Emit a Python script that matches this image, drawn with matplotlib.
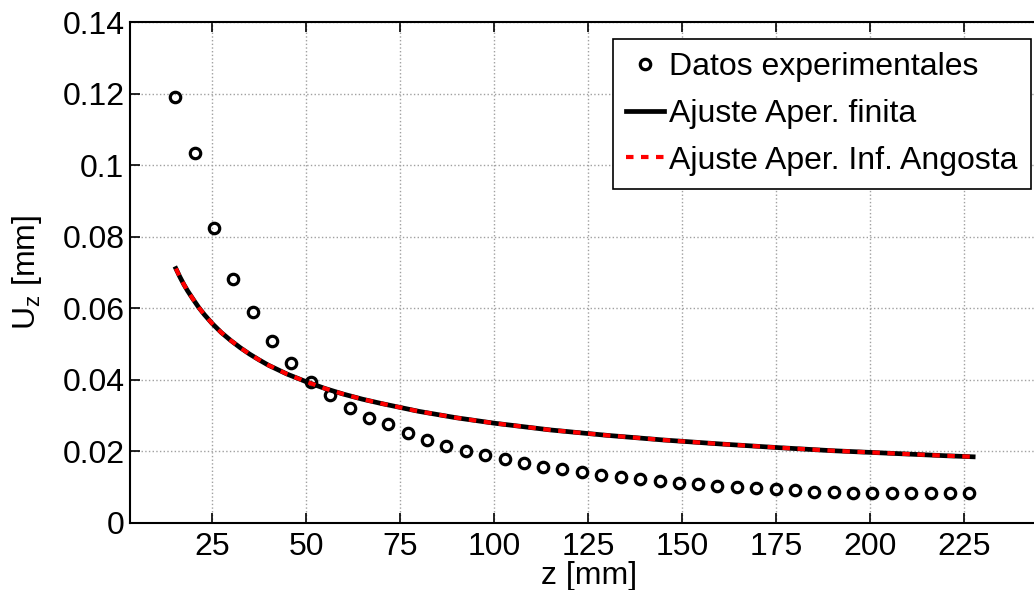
import numpy as np
import matplotlib as mpl
from matplotlib import pyplot as plt
from matplotlib.ticker import FormatStrFormatter

mpl.rcParams['font.family'] = ['Liberation Sans', 'DejaVu Sans']
mpl.rcParams['mathtext.fontset'] = 'custom'
mpl.rcParams['mathtext.rm'] = 'Liberation Sans'

z_exp = [15.2, 20.4, 25.5, 30.7, 35.8, 41.0, 46.1, 51.3, 56.4, 61.6,
         66.7, 71.9, 77.0, 82.2, 87.3, 92.5, 97.6, 102.8, 107.9, 113.1,
         118.2, 123.4, 128.5, 133.7, 138.8, 144.0, 149.1, 154.3, 159.4, 164.6,
         169.7, 174.9, 180.0, 185.2, 190.3, 195.5, 200.6, 205.8, 210.9, 216.1,
         221.2, 226.4]
u_exp = [0.1191, 0.1034, 0.0823, 0.0681, 0.0589, 0.0509, 0.0446, 0.0393, 0.0358, 0.0320,
         0.0294, 0.0276, 0.0251, 0.0232, 0.0215, 0.0202, 0.0190, 0.0179, 0.0167, 0.0157,
         0.0150, 0.0143, 0.0134, 0.0128, 0.0122, 0.0118, 0.0113, 0.0108, 0.0103, 0.0100,
         0.0097, 0.0094, 0.0091, 0.0088, 0.0086, 0.0084, 0.0083, 0.0083, 0.0083, 0.0083,
         0.0083, 0.0083]

# fitted curves (both fits lie on top of each other)
z_fit = [15.4, 16.5, 17.5, 18.5, 20, 21.5, 23, 25, 27.5, 30, 32.5, 35, 37.5,
         40, 45, 50, 55, 60, 65, 70, 80, 90, 100, 115, 130,
         145, 160, 175, 190, 205, 220, 227.4]
u_fit_finita = [0.0711, 0.0687, 0.0667, 0.0649, 0.0625, 0.0602, 0.0582, 0.0558,
                0.0532, 0.0510, 0.0490, 0.0472, 0.0456, 0.0441, 0.0416, 0.0395,
                0.0376, 0.0360, 0.0346, 0.0334, 0.0312, 0.0294, 0.0279, 0.0260,
                0.0245, 0.0232, 0.0221, 0.0211, 0.0202, 0.0195, 0.0188, 0.0185]
u_fit_angosta = [0.0711, 0.0687, 0.0667, 0.0649, 0.0625, 0.0602, 0.0582, 0.0558,
                 0.0532, 0.0510, 0.0490, 0.0472, 0.0456, 0.0441, 0.0416, 0.0395,
                 0.0376, 0.0360, 0.0346, 0.0334, 0.0312, 0.0294, 0.0279, 0.0260,
                 0.0245, 0.0232, 0.0221, 0.0211, 0.0202, 0.0195, 0.0188, 0.0185]

x_ticks = [25, 50, 75, 100, 125, 150, 175, 200, 225]
y_ticks = [0, 0.02, 0.04, 0.06, 0.08, 0.1, 0.12, 0.14]

W, H = 1034, 590
dpi = 100
fs = 23

fig = plt.figure(figsize=(W / dpi, H / dpi), dpi=dpi)
# axes run past the right edge of the figure, like the cropped original
ax = fig.add_axes([130 / W, (H - 523) / H, (1048 - 130) / W, (523 - 22) / H])

ax.plot(z_exp, u_exp, 'o', ms=7.5, mew=2.3, mfc='none', mec='black',
        label='Datos experimentales', zorder=3)
ax.plot(z_fit, u_fit_finita, '-', color='black', lw=3.4,
        label='Ajuste Aper. finita', zorder=4)
ax.plot(z_fit, u_fit_angosta, '--', color='red', lw=3.0, dashes=(1.8, 1.8),
        label='Ajuste Aper. Inf. Angosta', zorder=5)

ax.set_xlim(3.2, 247.3)
ax.set_ylim(0, 0.14)
ax.set_xticks(x_ticks)
ax.set_yticks(y_ticks)
ax.yaxis.set_major_formatter(FormatStrFormatter('%g'))

ax.grid(True, linestyle=':', color='#a0a0a0', lw=1.0)
ax.tick_params(direction='in', length=7, width=1.2, labelsize=fs,
               top=True, right=False, pad=4)
ax.tick_params(axis='x', pad=6.5)
for s in ['left', 'bottom', 'top']:
    ax.spines[s].set_linewidth(1.5)
ax.spines['right'].set_visible(False)

ax.set_xlabel('z [mm]', fontsize=fs)
ax.set_ylabel(r'U$_\mathrm{z}$ [mm]', fontsize=fs)
ax.xaxis.set_label_coords(0.5, -0.075)
ax.yaxis.set_label_coords(-0.094, 0.5)

leg = ax.legend(loc='upper right', bbox_to_anchor=(1031 / W, 1 - 39 / H),
                bbox_transform=fig.transFigure, borderaxespad=0,
                fontsize=fs, numpoints=1, handlelength=1.2, handletextpad=0.15,
                labelspacing=0.52, borderpad=0.42, fancybox=False,
                framealpha=1, edgecolor='black')
leg.get_frame().set_linewidth(1.2)

fig.savefig('out.png', dpi=dpi)
